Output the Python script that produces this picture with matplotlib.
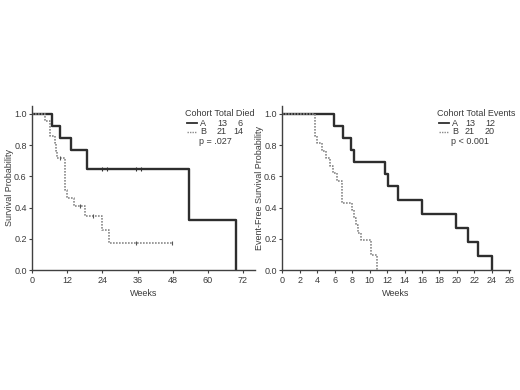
import matplotlib
matplotlib.use('Agg')
import matplotlib.pyplot as plt
from matplotlib.lines import Line2D

plt.rcParams['font.family'] = ['Liberation Sans', 'DejaVu Sans']
plt.rcParams['font.size'] = 6.5
TXT = '#3a3a3a'

# Overall survival (left panel)
os_a_t = [0, 6.7, 9.5, 13.4, 18.6, 53.7, 69.7]
os_a_s = [1.0, 0.923, 0.846, 0.769, 0.646, 0.323, 0.0]
os_a_cens = [23.8, 25.5, 35.4, 37.2]

os_b_t = [0, 4.4, 6.1, 7.6, 8.0, 8.3, 11.2, 11.8, 14.1, 18.1, 23.8, 26.3, 48.0]
os_b_s = [1.0, 0.952, 0.857, 0.810, 0.762, 0.714, 0.510, 0.459, 0.408, 0.343, 0.257, 0.171, 0.171]
os_b_cens = [9.5, 16.3, 20.9, 35.4, 47.8]

# Event-free survival (right panel)
efs_a_t = [0, 5.9, 7.0, 7.9, 8.2, 11.8, 12.1, 13.2, 16.0, 19.9, 21.3, 22.4, 24.0]
efs_a_s = [1.0, 0.923, 0.846, 0.769, 0.692, 0.615, 0.538, 0.448, 0.358, 0.269, 0.179, 0.090, 0.0]

efs_b_t = [0, 3.74, 4.0, 4.5, 5.0, 5.5, 5.85, 6.3, 6.8, 7.95, 8.2, 8.45, 8.7, 9.0, 10.1, 10.9]
efs_b_s = [1.0, 0.857, 0.810, 0.762, 0.714, 0.667, 0.619, 0.571, 0.429, 0.381, 0.333, 0.286, 0.238, 0.190, 0.095, 0.0]

cohorts = ['A', 'B']
os_total = [13, 21]
os_died = [6, 14]
efs_total = [13, 21]
efs_events = [12, 20]

col_a, col_b = '#2e2e2e', '#8a8a8a'
dots = (0, (1, 0.8))


def km_value(t, s, x):
    v = s[0]
    for ti, si in zip(t, s):
        if ti <= x:
            v = si
    return v


def style_axes(ax, xticks, xlim, ylabel):
    ax.set_xlim(*xlim)
    ax.set_ylim(0, 1.05)
    ax.set_xticks(xticks)
    ax.set_yticks([0, 0.2, 0.4, 0.6, 0.8, 1.0])
    ax.set_yticklabels(['0.0', '0.2', '0.4', '0.6', '0.8', '1.0'])
    for side in ['top', 'right']:
        ax.spines[side].set_visible(False)
    for side in ['left', 'bottom']:
        ax.spines[side].set_color('#404040')
        ax.spines[side].set_linewidth(1.0)
    ax.tick_params(length=2, width=0.8, colors='#404040', labelcolor=TXT, pad=2)
    ax.set_xlabel('Weeks', color=TXT, labelpad=3)
    ax.set_ylabel(ylabel, color=TXT, labelpad=0)


fig = plt.figure(figsize=(5.2, 3.9), dpi=100)
ax1 = fig.add_axes([32.3 / 520, 120 / 390, 223 / 520, 164 / 390])
ax2 = fig.add_axes([282.3 / 520, 120 / 390, 227.5 / 520, 164 / 390])

# left panel
ax1.step(os_a_t, os_a_s, where='post', color=col_a, lw=1.7)
ax1.step(os_b_t, os_b_s, where='post', color=col_b, lw=1.2, ls=dots)
ax1.plot(os_a_cens, [km_value(os_a_t, os_a_s, c) for c in os_a_cens], '|',
         color=col_a, ms=3, mew=0.8)
ax1.plot(os_b_cens, [km_value(os_b_t, os_b_s, c) for c in os_b_cens], '|',
         color='#555555', ms=3, mew=0.8)
style_axes(ax1, [0, 12, 24, 36, 48, 60, 72], (0, 76.3), 'Survival Probability')

# right panel
ax2.step(efs_a_t, efs_a_s, where='post', color=col_a, lw=1.7)
ax2.step(efs_b_t, efs_b_s, where='post', color=col_b, lw=1.2, ls=dots)
style_axes(ax2, list(range(0, 27, 2)), (0, 26.05), 'Event-Free Survival Probability')


def px(x, y):
    return x / 520, 1 - y / 390


def legend_table(x0, header, totals, counts, pline, col1, col2):
    fig.text(*px(x0, 114), header, color=TXT, va='center', ha='left')
    for i, (c, tot, cnt) in enumerate(zip(cohorts, totals, counts)):
        y = 123 + i * 9
        xa, ya = px(x0 + 2, y)
        xb, _ = px(x0 + 12, y)
        if i == 0:
            fig.add_artist(Line2D([xa, xb], [ya, ya], color=col_a, lw=1.3,
                                  transform=fig.transFigure))
        else:
            fig.add_artist(Line2D([xa, xb], [ya, ya], color=col_b, lw=1.0, ls=dots,
                                  transform=fig.transFigure))
        fig.text(*px(x0 + 15, y), c, color=TXT, va='center', ha='left')
        fig.text(*px(col1, y), str(tot), color=TXT, va='center', ha='right')
        fig.text(*px(col2, y), str(cnt), color=TXT, va='center', ha='right')
    fig.text(*px(x0 + 14, 141), pline, color=TXT, va='center', ha='left')


legend_table(185, 'Cohort Total Died', os_total, os_died, 'p = .027', 227, 243)
legend_table(437, 'Cohort Total Events', efs_total, efs_events, 'p < 0.001', 475, 495)

fig.savefig('out.png', dpi=100)
